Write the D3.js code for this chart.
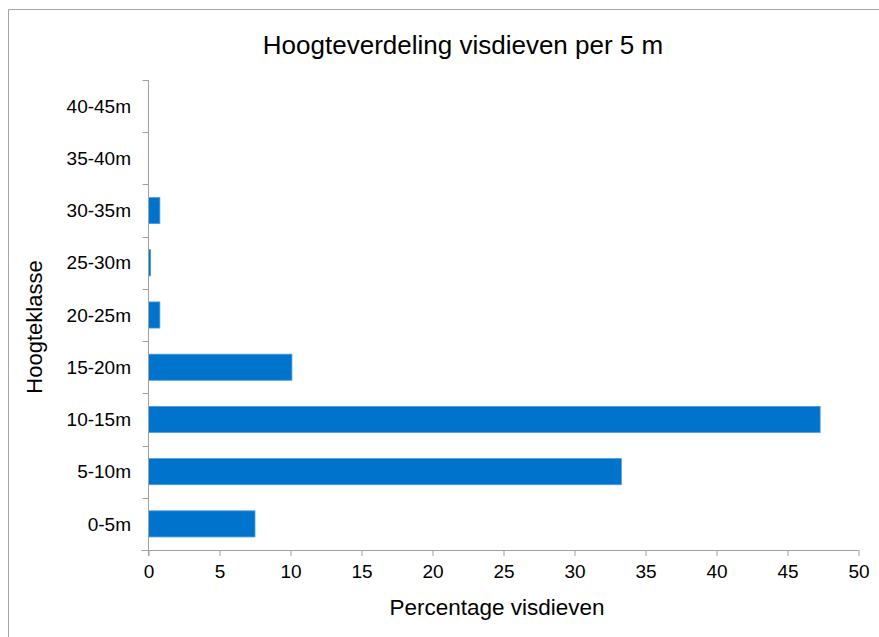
<!DOCTYPE html>
<html><head><meta charset="utf-8">
<script src="https://cdn.jsdelivr.net/npm/d3@7"></script>
<style>body{margin:0;background:#fff;} svg{display:block;font-family:"Liberation Sans",Arial,sans-serif;}</style>
</head><body>
<svg id="c" width="879" height="637"></svg>
<script>
const categories = ["0-5m","5-10m","10-15m","15-20m","20-25m","25-30m","30-35m","35-40m","40-45m"];
const values = [7.5, 33.3, 47.3, 10.1, 0.8, 0.15, 0.8, 0, 0];
const xTicks = [0,5,10,15,20,25,30,35,40,45,50];
const title = "Hoogteverdeling visdieven per 5 m";
const xTitle = "Percentage visdieven";
const yTitle = "Hoogteklasse";

const svg = d3.select("#c");
const m = {left:148.5, right:858.5, top:80, bottom:550};
const x = d3.scaleLinear().domain([0,50]).range([m.left, m.right]);
const y = d3.scaleBand().domain(categories.slice().reverse()).range([m.top, m.bottom]).paddingInner(0.5).paddingOuter(0.25);
const yb = d3.scaleBand().domain(categories.slice().reverse()).range([m.top, m.bottom]);

// outer border
svg.append("path").attr("d","M8.5,640 V9.5 H885").attr("fill","none").attr("stroke","#a6a6a6").attr("stroke-width",1);

svg.append("text").attr("x",463).attr("y",54).attr("text-anchor","middle").attr("font-size",26).attr("fill","#000").text(title);

// bars
svg.selectAll("rect.bar").data(categories).enter().append("rect")
  .attr("x", x(0)).attr("y", d=>y(d))
  .attr("width", (d,i)=>Math.max(0, x(values[i])-x(0)))
  .attr("height", y.bandwidth())
  .attr("fill","#0073CC").attr("stroke",(d,i)=>values[i]>0?"#4a9de0":"none").attr("stroke-width",0.8);

// x axis
const gx = svg.append("g").attr("transform",`translate(0,${m.bottom})`)
  .call(d3.axisBottom(x).tickValues(xTicks).tickSize(6).tickSizeOuter(0).tickPadding(9));
gx.select(".domain").attr("stroke","#a0a0a0").attr("d",`M${m.left-7},0.5H${m.right}`);
gx.selectAll(".tick line").attr("stroke","#a0a0a0");
gx.selectAll(".tick text").attr("font-size",19).attr("fill","#000").attr("font-family","Liberation Sans, Arial, sans-serif");

// y axis line and ticks between categories
const gy = svg.append("g");
gy.append("line").attr("x1",m.left).attr("x2",m.left).attr("y1",m.top).attr("y2",m.bottom+6).attr("stroke","#a0a0a0");
const bounds = categories.slice().reverse().map(d=>yb(d));
gy.selectAll("line.t").data(bounds).enter().append("line")
  .attr("x1",m.left-6).attr("x2",m.left).attr("y1",d=>Math.round(d)+0.5).attr("y2",d=>Math.round(d)+0.5).attr("stroke","#a0a0a0");
gy.selectAll("text").data(categories).enter().append("text")
  .attr("x",131).attr("y",d=>yb(d)+yb.bandwidth()/2).attr("dy","0.35em")
  .attr("text-anchor","end").attr("font-size",19).attr("fill","#000").text(d=>d);

svg.append("text").attr("x",497).attr("y",615).attr("text-anchor","middle").attr("font-size",22.5).attr("fill","#000").text(xTitle);
svg.append("text").attr("transform","translate(42,327) rotate(-90)").attr("text-anchor","middle").attr("font-size",22).attr("fill","#000").text(yTitle);
</script>
</body></html>
